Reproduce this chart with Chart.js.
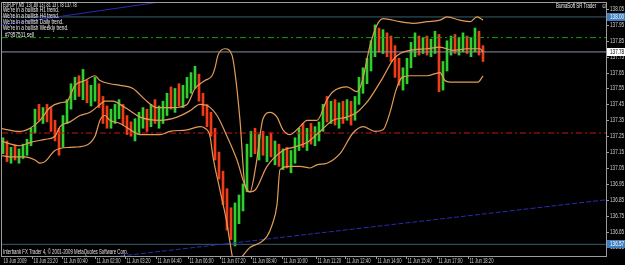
<!DOCTYPE html>
<html>
<head>
<meta charset="utf-8">
<script src="https://cdn.jsdelivr.net/npm/chart.js@4.4.1/dist/chart.umd.min.js"></script>
<style>
html, body { margin: 0; padding: 0; background: #000; }
canvas { display: block; }
</style>
</head>
<body>
<canvas id="chart" width="625" height="265"></canvas>
<script>
// EURJPY M5 bars, one entry per bar (open = previous close)
var firstOpen = 137.18;
var highs = [
  137.24,137.22,137.18,137.19,137.17,137.20,137.23,137.30,137.42,137.45,
  137.43,137.45,137.43,137.35,137.30,137.38,137.48,137.58,137.62,137.63,
  137.67,137.60,137.57,137.62,137.58,137.50,137.44,137.42,137.45,137.48,
  137.45,137.38,137.34,137.36,137.40,137.43,137.42,137.45,137.48,137.44,
  137.47,137.52,137.56,137.55,137.58,137.57,137.62,137.65,137.69,137.64,
  137.52,137.45,137.40,137.30,137.15,137.03,136.92,136.80,136.83,136.88,
  136.95,137.20,137.28,137.30,137.26,137.28,137.25,137.27,137.22,137.20,
  137.17,137.18,137.16,137.24,137.30,137.33,137.30,137.33,137.31,137.34,
  137.45,137.50,137.47,137.48,137.46,137.47,137.48,137.47,137.50,137.62,
  137.68,137.74,137.85,137.95,137.93,137.92,137.90,137.88,137.82,137.74,
  137.68,137.74,137.84,137.90,137.88,137.87,137.88,137.86,137.91,137.89,
  137.72,137.85,137.88,137.89,137.87,137.90,137.88,137.87,137.93,137.91,
  137.82];
var lows = [
  137.14,137.09,137.08,137.10,137.08,137.11,137.13,137.19,137.27,137.35,
  137.33,137.34,137.28,137.22,137.13,137.18,137.33,137.42,137.48,137.50,
  137.48,137.46,137.44,137.47,137.43,137.33,137.30,137.30,137.33,137.36,
  137.32,137.26,137.25,137.22,137.26,137.30,137.28,137.31,137.33,137.30,
  137.33,137.38,137.42,137.40,137.44,137.43,137.49,137.52,137.55,137.47,
  137.38,137.31,137.25,137.10,136.98,136.82,136.66,136.60,136.56,136.70,
  136.78,136.90,137.12,137.14,137.10,137.13,137.09,137.12,137.07,137.06,
  137.04,137.05,137.02,137.08,137.16,137.18,137.16,137.20,137.19,137.22,
  137.28,137.34,137.33,137.32,137.30,137.33,137.35,137.32,137.35,137.45,
  137.52,137.58,137.66,137.75,137.78,137.77,137.75,137.72,137.62,137.57,
  137.54,137.58,137.68,137.75,137.76,137.77,137.76,137.75,137.77,137.53,
  137.54,137.66,137.76,137.77,137.76,137.78,137.77,137.75,137.78,137.76,
  137.72];
var closes = [
  137.20,137.12,137.15,137.12,137.14,137.18,137.21,137.28,137.40,137.38,
  137.41,137.36,137.31,137.27,137.20,137.35,137.45,137.55,137.58,137.52,
  137.60,137.50,137.52,137.55,137.46,137.36,137.34,137.38,137.40,137.40,
  137.35,137.29,137.27,137.32,137.33,137.39,137.31,137.42,137.38,137.41,
  137.43,137.49,137.45,137.52,137.47,137.54,137.58,137.62,137.62,137.50,
  137.42,137.35,137.28,137.13,137.00,136.85,136.72,136.68,136.78,136.85,
  136.92,137.17,137.20,137.18,137.22,137.16,137.20,137.15,137.18,137.10,
  137.14,137.08,137.12,137.21,137.27,137.22,137.26,137.24,137.28,137.31,
  137.42,137.38,137.44,137.36,137.42,137.39,137.44,137.36,137.47,137.58,
  137.64,137.70,137.80,137.88,137.82,137.86,137.80,137.76,137.66,137.60,
  137.64,137.70,137.80,137.84,137.80,137.83,137.79,137.82,137.86,137.60,
  137.68,137.82,137.84,137.81,137.84,137.86,137.80,137.84,137.90,137.80,
  137.78];

// bands (bar index, price)
var upperAt = [-0.75,4.25,6.75,9.25,11.75,14.25,16,18,20.5,23,24.25,26.75,29.25,32.5,35.5,38.5,42.5,46,48,50.5,52.25,53,53.75,55.5,57.25,58,59.25,60.5,61.75,63.25,65,66.75,68.5,70,71.75,74.25,76,78.5,81,82.5,86,88.5,89.75,91.75,93.5,95,99.25,102.5,106,109.25,111,114.25,116.75,118.5,120];
var upperVals = [137.30,137.28,137.30,137.35,137.43,137.46,137.47,137.57,137.60,137.63,137.60,137.58,137.57,137.55,137.48,137.43,137.43,137.45,137.55,137.60,137.63,137.68,137.76,137.80,137.76,137.65,137.35,136.94,136.90,137.07,137.36,137.40,137.37,137.29,137.26,137.31,137.35,137.35,137.48,137.53,137.56,137.53,137.59,137.82,137.95,137.99,137.97,137.96,137.97,137.98,138.00,137.98,137.97,138.00,137.98];
var middleAt = [-0.75,4.25,6.75,10.5,13,14.25,16.75,19.25,21.75,24.25,25.5,27.5,29.25,31.75,34.25,39.25,43.5,46.75,49.25,51.25,53.5,56,58.5,60.5,61.75,63,66,70,72.5,76,79.25,82.5,86,88.5,90.5,91.75,95,97.5,99.25,101.75,106,109.25,112.5,116,119.25,120];
var middleVals = [137.22,137.19,137.21,137.23,137.25,137.31,137.34,137.38,137.40,137.45,137.47,137.47,137.45,137.41,137.37,137.35,137.37,137.41,137.45,137.44,137.38,137.25,137.10,136.94,136.90,136.91,137.06,137.16,137.18,137.21,137.28,137.35,137.37,137.40,137.45,137.49,137.62,137.73,137.77,137.79,137.80,137.81,137.79,137.80,137.80,137.78];
var lowerAt = [-0.75,1.75,5.5,8,9.25,10.5,13,16.75,20.5,23,24.25,25.5,26.75,29.25,32.5,34.25,39.25,41.75,46,49.25,50.5,51.75,52.5,54.25,56,56.75,57.75,59.25,61.75,64.25,66,67.25,68.5,69.25,71.75,74.25,76.75,78.5,81,84.25,87.5,90,93,95,96.75,98.25,99.75,101.75,106,109.25,110.5,111.75,116,118.75,120];
var lowerVals = [137.13,137.12,137.12,137.10,137.08,137.09,137.16,137.18,137.19,137.25,137.35,137.38,137.35,137.33,137.28,137.26,137.26,137.28,137.29,137.31,137.30,137.25,137.12,136.91,136.70,136.58,136.46,136.48,136.55,136.58,136.62,136.69,136.82,137.04,137.06,137.06,137.05,137.07,137.08,137.14,137.27,137.31,137.28,137.29,137.40,137.54,137.62,137.63,137.63,137.65,137.60,137.59,137.59,137.59,137.63];

// horizontal levels and trend lines
var levelValues = [138.00, 137.87, 137.78, 137.27, 136.57];
var trendLowAt = [-0.25, 150.75];
var trendLowVals = [136.41, 136.85];
var trendHighAt = [-0.25, 39.25];
var trendHighVals = [137.95, 138.094];

// axis labels
var yTicks = [138.05,137.95,137.85,137.75,137.65,137.55,137.45,137.35,137.25,137.15,137.05,136.95,136.85,136.75,136.65,136.55];
var xTickAt = [-0.25,7.25,14.75,23,30.5,38.25,46.25,54.25,62,69.75,78.25,85.5,93.25,100.75,108.5,116.25];
var xTickLabels = ['10 Jun 2009','10 Jun 23:20','11 Jun 00:40','11 Jun 02:00','11 Jun 03:20','11 Jun 04:40','11 Jun 06:00','11 Jun 07:20','11 Jun 08:40','11 Jun 10:00','11 Jun 11:20','11 Jun 12:40','11 Jun 14:00','11 Jun 15:40','11 Jun 17:00','11 Jun 18:20'];

var infoLines = ['EURJPY,M5  137.80 137.81 137.78 137.78', "We're in a bullish H1 trend.", "We're in a bullish H4 trend.", "We're in a bullish Daily trend.", "We're in a bullish Weekly trend.", '#7957511 sell'];

function pts(at, vals) {
    return at.map(function(x, i) { return {x: x, y: vals[i]}; });
}

var bars = highs.map(function(h, i) { return {x: i, y: [lows[i], h]}; });
var barColors = closes.map(function(c, i) {
    var o = i == 0 ? firstOpen : closes[i - 1];
    return c >= o ? '#2fcf2f' : '#f03c18';
});

function levelLine(v, color, dash) {
    return {
        type: 'line', data: [{x: -0.25, y: v}, {x: 150.75, y: v}],
        borderColor: color, borderWidth: 1, borderDash: dash, pointRadius: 0, order: 3
    };
}
function bandLine(data) {
    return {
        type: 'line', data: data, borderColor: '#e39c58', borderWidth: 1.2,
        pointRadius: 0, cubicInterpolationMode: 'monotone', order: 1
    };
}

function drawText(ctx, s, x, y, color, sx) {
    ctx.save();
    ctx.translate(x, y);
    ctx.scale(sx, 1);
    ctx.fillStyle = color;
    ctx.font = '7px "Liberation Sans", Arial, sans-serif';
    ctx.textBaseline = 'middle';
    ctx.fillText(s, 0, 0);
    ctx.restore();
}

var mtFrame = {
    id: 'mtFrame',
    beforeDraw: function(chart) {
        var ctx = chart.ctx;
        ctx.save();
        ctx.fillStyle = '#000';
        ctx.fillRect(0, 0, chart.width, chart.height);
        ctx.restore();
    },
    afterDraw: function(chart) {
        var ctx = chart.ctx, a = chart.chartArea;
        var xs = chart.scales.x, ys = chart.scales.y;
        ctx.save();
        ctx.strokeStyle = '#9c9c9c';
        ctx.lineWidth = 1;
        ctx.strokeRect(a.left - 0.5, a.top - 0.5, a.right - a.left + 1, a.bottom - a.top + 1);

        // price scale
        yTicks.forEach(function(v) {
            var y = Math.round(ys.getPixelForValue(v)) + 0.5;
            ctx.beginPath();
            ctx.moveTo(a.right, y);
            ctx.lineTo(a.right + 3, y);
            ctx.stroke();
            drawText(ctx, v.toFixed(2), a.right + 4, y, '#d0d0d0', 0.66);
        });

        // time scale
        xTickAt.forEach(function(t, i) {
            var x = Math.round(xs.getPixelForValue(t)) + 0.5;
            if (i > 0) {
                ctx.beginPath();
                ctx.moveTo(x, a.bottom);
                ctx.lineTo(x, a.bottom + 3);
                ctx.stroke();
            }
            drawText(ctx, xTickLabels[i], x + 1, a.bottom + 5, '#d0d0d0', 0.6);
        });

        // price boxes on the right
        function box(v, bg, fg) {
            var y = Math.round(ys.getPixelForValue(v));
            ctx.fillStyle = bg;
            ctx.fillRect(a.right + 1, y - 4, chart.width - a.right - 1, 8);
            drawText(ctx, v.toFixed(2), a.right + 4, y, fg, 0.66);
        }
        box(levelValues[0], '#3f7fbf', '#ffffff');
        box(levelValues[2], '#ffffff', '#000000');
        box(levelValues[4], '#3f7fbf', '#ffffff');

        // text overlays
        var infoY = [5, 10.5, 16.5, 22.5, 28.5, 35];
        infoLines.forEach(function(s, i) {
            drawText(ctx, s, i == 5 ? 5 : 3, infoY[i], '#f0f0f0', i == 0 ? 0.55 : 0.67);
        });
        drawText(ctx, 'BumaSoft SR Trader', 556, 6, '#f0f0f0', 0.62);
        drawText(ctx, '\u263a', 601, 6, '#f0f0f0', 0.9);
        drawText(ctx, 'Interbank FX Trader 4, \u00a9 2001-2009 MetaQuotes Software Corp.', 3, 252, '#e0e0e0', 0.62);
        ctx.restore();
    }
};

new Chart(document.getElementById('chart'), {
    type: 'bar',
    data: {
        datasets: [
            {
                type: 'bar', data: bars, backgroundColor: barColors,
                barThickness: 2, grouped: false, order: 10
            },
            bandLine(pts(upperAt, upperVals)),
            bandLine(pts(middleAt, middleVals)),
            bandLine(pts(lowerAt, lowerVals)),
            levelLine(levelValues[0], '#3a5f6e', []),
            levelLine(levelValues[1], '#1c9a1c', [6, 3, 2, 3]),
            levelLine(levelValues[2], '#8893a2', []),
            levelLine(levelValues[3], '#c81414', [6, 3, 2, 3]),
            levelLine(levelValues[4], '#3a5f6e', []),
            {
                type: 'line', data: pts(trendLowAt, trendLowVals), borderColor: '#2a2ab4',
                borderWidth: 1, borderDash: [5, 2], pointRadius: 0, order: 2
            },
            {
                type: 'line', data: pts(trendHighAt, trendHighVals), borderColor: '#2a2ab4',
                borderWidth: 1, pointRadius: 0, order: 2
            }
        ]
    },
    options: {
        responsive: false,
        animation: false,
        devicePixelRatio: 1,
        layout: { padding: { left: 2, top: 3, right: 19, bottom: 9 } },
        scales: {
            x: { type: 'linear', min: -0.25, max: 150.75, offset: false, display: false },
            y: { min: 136.4965, max: 138.0877, display: false }
        },
        plugins: { legend: { display: false }, tooltip: { enabled: false } }
    },
    plugins: [mtFrame]
});
</script>
</body>
</html>
